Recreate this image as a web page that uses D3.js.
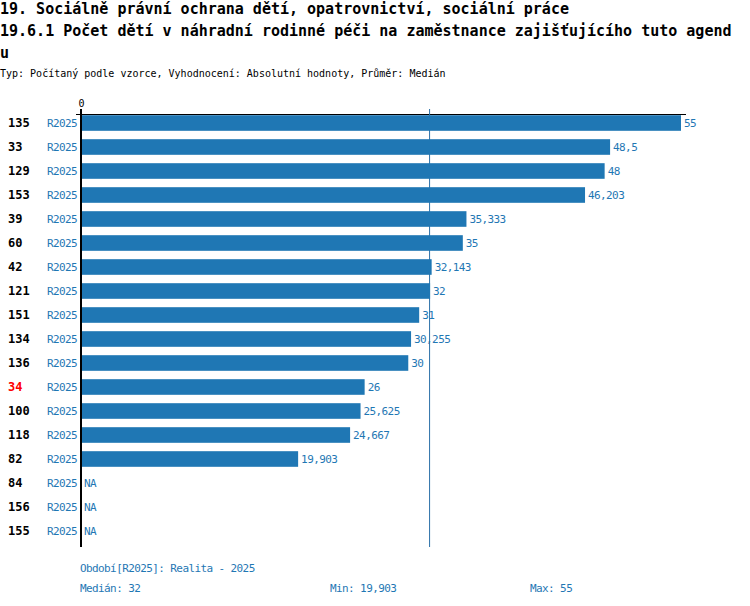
<!DOCTYPE html>
<html>
<head>
<meta charset="utf-8">
<script src="https://cdn.jsdelivr.net/npm/d3@7"></script>
<style>
  body { margin: 0; background: #fff; }
  text { font-family: "DejaVu Sans Mono", "Liberation Mono", monospace; }
  text.small { font-size: 11px; letter-spacing: -0.6px; }
</style>
</head>
<body>
<div class="chartVisual"></div>
<script>
var titleLines = [
  "19. Sociálně právní ochrana dětí, opatrovnictví, sociální práce",
  "19.6.1 Počet dětí v náhradní rodinné péči na zaměstnance zajišťujícího tuto agend",
  "u"
];
var subtitle = "Typ: Počítaný podle vzorce, Vyhodnocení: Absolutní hodnoty, Průměr: Medián";

var categories = ["135", "33", "129", "153", "39", "60", "42", "121", "151", "134", "136", "34", "100", "118", "82", "84", "156", "155"];
var values = [55, 48.5, 48, 46.203, 35.333, 35, 32.143, 32, 31, 30.255, 30, 26, 25.625, 24.667, 19.903, null, null, null];
var period = "R2025";
var highlighted = ["34"];
var axisTicks = [0];
var median = 32;
var footerLines = ["Období[R2025]: Realita - 2025"];
var stats = ["Medián: 32", "Min: 19,903", "Max: 55"];

var czNum = function(v) { return String(v).replace(".", ","); };

var data = categories.map(function(c, i) { return { id: c, value: values[i] }; });

var svg = d3.select(".chartVisual").append("svg")
  .attr("width", 750)
  .attr("height", 606);

svg.selectAll("text.title").data(titleLines).enter().append("text")
  .attr("class", "title")
  .attr("x", 0)
  .attr("y", function(d, i) { return 14 + i * 22; })
  .attr("font-size", "15px")
  .attr("font-weight", "bold")
  .attr("fill", "#000")
  .text(function(d) { return d; });

svg.append("text")
  .attr("x", 0)
  .attr("y", 77)
  .attr("font-size", "10px")
  .attr("fill", "#000")
  .text(subtitle);

var x = d3.scaleLinear().domain([0, 55]).range([81, 681]);
var y = d3.scaleBand().domain(categories).range([111, 543])
  .paddingInner(0.35).paddingOuter(0.175);

// top axis
var axis = svg.append("g")
  .attr("transform", "translate(0,114.5)")
  .call(d3.axisTop(x).tickValues(axisTicks).tickSize(5).tickSizeOuter(0).tickPadding(3));
axis.select(".domain").attr("d", "M" + (x(0) - 5) + ",0H" + (x(55) + 5)).attr("stroke", "#000");
axis.selectAll(".tick line").attr("stroke", "#000");
axis.selectAll(".tick text")
  .attr("font-family", "DejaVu Sans Mono, monospace")
  .attr("font-size", "10px")
  .attr("fill", "#000");

// median line
svg.append("line")
  .attr("x1", x(median) - 0.5).attr("x2", x(median) - 0.5)
  .attr("y1", 109).attr("y2", 547)
  .attr("stroke", "#2a6fa8")
  .attr("stroke-width", 1);

// bars
svg.selectAll("rect.bar").data(data.filter(function(d) { return d.value != null; })).enter().append("rect")
  .attr("class", "bar")
  .attr("x", x(0) + 1)
  .attr("y", function(d) { return y(d.id); })
  .attr("width", function(d) { return x(d.value) - x(0) - 1; })
  .attr("height", y.bandwidth())
  .attr("fill", "#1f77b4");

// zero line
svg.append("line")
  .attr("x1", x(0)).attr("x2", x(0))
  .attr("y1", 109).attr("y2", 547)
  .attr("stroke", "#000")
  .attr("stroke-width", 2);

var mid = function(d) { return y(d.id) + y.bandwidth() / 2; };

svg.selectAll("text.cat").data(data).enter().append("text")
  .attr("class", "cat")
  .attr("x", 8)
  .attr("y", function(d) { return mid(d) + 4; })
  .attr("font-size", "12px")
  .attr("font-weight", "bold")
  .attr("fill", function(d) { return highlighted.indexOf(d.id) >= 0 ? "#f00" : "#000"; })
  .text(function(d) { return d.id; });

svg.selectAll("text.per").data(data).enter().append("text")
  .attr("class", "per small")
  .attr("x", 47)
  .attr("y", function(d) { return mid(d) + 4; })
  .attr("fill", "#1f77b4")
  .text(period);

svg.selectAll("text.val").data(data).enter().append("text")
  .attr("class", "val small")
  .attr("x", function(d) { return d.value == null ? x(0) + 3 : x(d.value) + 3; })
  .attr("y", function(d) { return mid(d) + 4; })
  .attr("fill", "#1f77b4")
  .text(function(d) { return d.value == null ? "NA" : czNum(d.value); });

// footer
svg.append("text")
  .attr("class", "small")
  .attr("x", 80).attr("y", 572)
  .attr("fill", "#1f77b4")
  .text(footerLines[0]);

svg.selectAll("text.stat").data(stats).enter().append("text")
  .attr("class", "stat small")
  .attr("x", function(d, i) { return [80, 330, 530][i]; })
  .attr("y", 592)
  .attr("fill", "#1f77b4")
  .text(function(d) { return d; });
</script>
</body>
</html>
